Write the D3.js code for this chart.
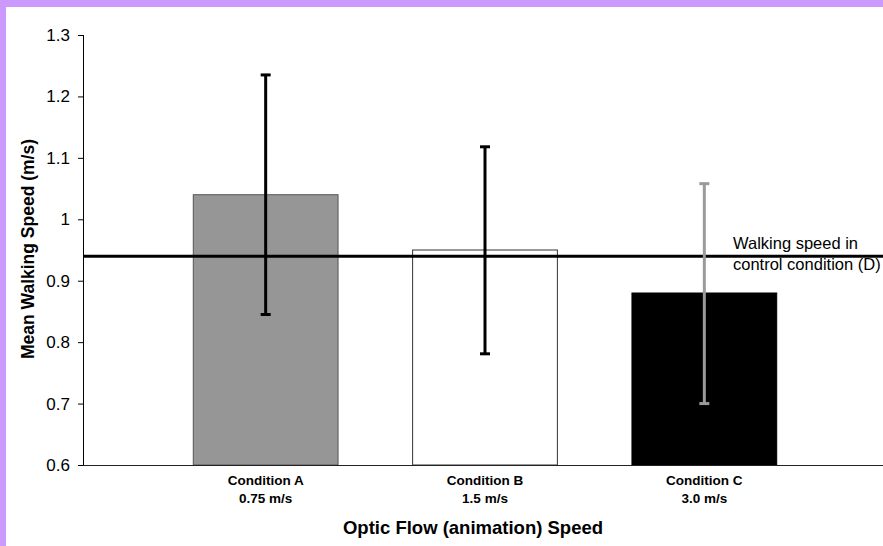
<!DOCTYPE html>
<html>
<head>
<meta charset="utf-8">
<script src="https://cdn.jsdelivr.net/npm/d3@7"></script>
<style>
  html, body { margin: 0; padding: 0; background: #cc99ff; }
  svg { display: block; font-family: "Liberation Sans", Arial, sans-serif; }
</style>
</head>
<body>
<svg id="chart" width="883" height="546"></svg>
<script>
'use strict';

// data
var categories = ['Condition A', 'Condition B', 'Condition C'];
var speedLabels = ['0.75 m/s', '1.5 m/s', '3.0 m/s'];
var means = [1.04, 0.95, 0.88];
var errUpper = [1.235, 1.118, 1.058];
var errLower = [0.845, 0.781, 0.700];
var controlSpeed = 0.94;
var yTicks = [0.6, 0.7, 0.8, 0.9, 1, 1.1, 1.2, 1.3];

var barFill = ['#969696', '#ffffff', '#000000'];
var barStroke = ['#555555', '#333333', '#000000'];
var errColor = ['#000000', '#000000', '#9a9a9a'];

var svg = d3.select('#chart');

// white chart area inside the purple frame
svg.append('rect')
    .attr('x', 6).attr('y', 7)
    .attr('width', 877).attr('height', 539)
    .attr('fill', '#ffffff');

var axisX = 83;
var y = d3.scaleLinear().domain([0.6, 1.3]).range([465, 35]);
var x = d3.scaleBand().domain(categories)
    .range([156, 814])
    .paddingInner(0.34)
    .paddingOuter(0.17);

// bars
svg.append('g').selectAll('rect')
    .data(categories)
    .enter().append('rect')
    .attr('x', function (d) { return x(d); })
    .attr('y', function (d, i) { return y(means[i]); })
    .attr('width', x.bandwidth())
    .attr('height', function (d, i) { return y(0.6) - y(means[i]); })
    .attr('fill', function (d, i) { return barFill[i]; })
    .attr('stroke', function (d, i) { return barStroke[i]; })
    .attr('stroke-width', 1);

// control condition reference line
svg.append('line')
    .attr('x1', axisX).attr('x2', 883)
    .attr('y1', y(controlSpeed)).attr('y2', y(controlSpeed))
    .attr('stroke', '#000').attr('stroke-width', 3);

// error bars
var err = svg.append('g').selectAll('g')
    .data(categories)
    .enter().append('g')
    .attr('stroke', function (d, i) { return errColor[i]; });

err.append('line')
    .attr('x1', function (d) { return x(d) + x.bandwidth() / 2; })
    .attr('x2', function (d) { return x(d) + x.bandwidth() / 2; })
    .attr('y1', function (d, i) { return y(errUpper[i]); })
    .attr('y2', function (d, i) { return y(errLower[i]); })
    .attr('stroke-width', 3);

['upper', 'lower'].forEach(function (which) {
    err.append('line')
        .attr('x1', function (d) { return x(d) + x.bandwidth() / 2 - 5; })
        .attr('x2', function (d) { return x(d) + x.bandwidth() / 2 + 5; })
        .attr('y1', function (d, i) { return y(which === 'upper' ? errUpper[i] : errLower[i]); })
        .attr('y2', function (d, i) { return y(which === 'upper' ? errUpper[i] : errLower[i]); })
        .attr('stroke-width', 3);
});

// y axis
var yAxis = svg.append('g')
    .attr('transform', 'translate(' + axisX + ',0)')
    .call(d3.axisLeft(y).tickValues(yTicks).tickSize(5).tickPadding(8)
        .tickFormat(function (d) { return String(+d.toFixed(1)); }));
yAxis.select('.domain').remove();
yAxis.selectAll('line').attr('stroke', '#000');
yAxis.selectAll('text')
    .attr('font-size', 17)
    .attr('fill', '#000')
    .attr('font-family', '"Liberation Sans", Arial, sans-serif');

svg.append('line')
    .attr('x1', axisX + 0.5).attr('x2', axisX + 0.5)
    .attr('y1', y(1.3)).attr('y2', y(0.6))
    .attr('stroke', '#000').attr('stroke-width', 1);

// x axis line runs on past the right edge
svg.append('line')
    .attr('x1', axisX).attr('x2', 883)
    .attr('y1', y(0.6) + 0.5).attr('y2', y(0.6) + 0.5)
    .attr('stroke', '#222').attr('stroke-width', 1.2);

// category labels
var catLabels = svg.append('g').selectAll('text')
    .data(categories)
    .enter().append('text')
    .attr('text-anchor', 'middle')
    .attr('font-size', 13.5)
    .attr('font-weight', 'bold')
    .attr('fill', '#000');
catLabels.append('tspan')
    .attr('x', function (d) { return x(d) + x.bandwidth() / 2; })
    .attr('y', 485)
    .text(function (d) { return d; });
catLabels.append('tspan')
    .attr('x', function (d) { return x(d) + x.bandwidth() / 2; })
    .attr('y', 503)
    .text(function (d, i) { return speedLabels[i]; });

// axis titles
svg.append('text')
    .attr('x', 473).attr('y', 534)
    .attr('text-anchor', 'middle')
    .attr('font-size', 18.5)
    .attr('font-weight', 'bold')
    .text('Optic Flow (animation) Speed');

svg.append('text')
    .attr('transform', 'translate(34,' + 249 + ') rotate(-90)')
    .attr('text-anchor', 'middle')
    .attr('font-size', 17.5)
    .attr('font-weight', 'bold')
    .text('Mean Walking Speed (m/s)');

// annotation for the reference line
var note = svg.append('text')
    .attr('font-size', 16.5)
    .attr('fill', '#000');
note.append('tspan').attr('x', 733).attr('y', 249).text('Walking speed in');
note.append('tspan').attr('x', 733).attr('y', 270).text('control condition (D)');
</script>
</body>
</html>
